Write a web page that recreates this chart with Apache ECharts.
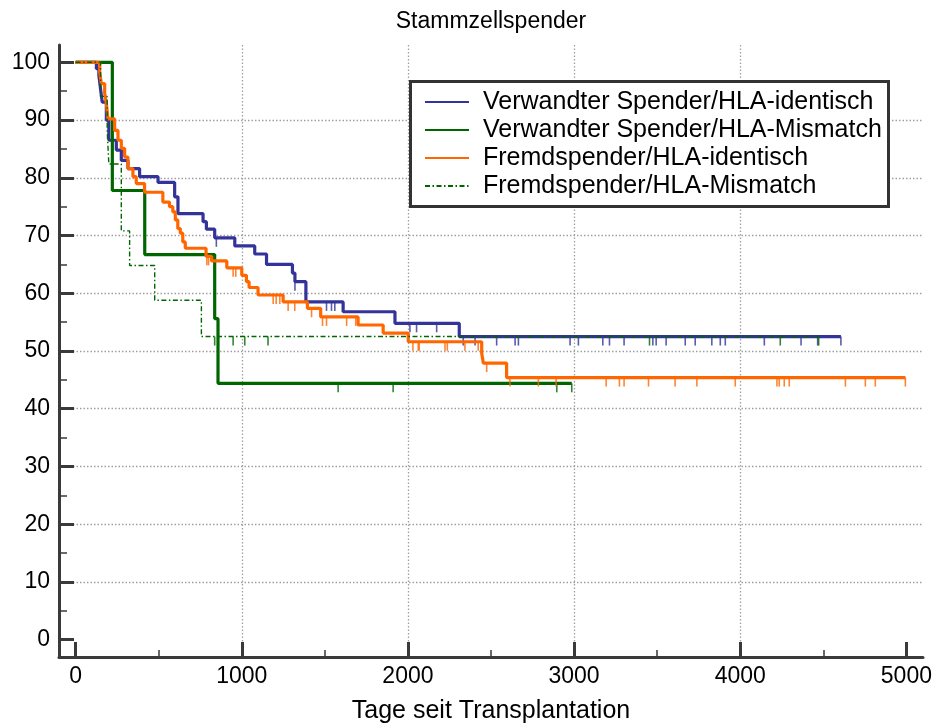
<!DOCTYPE html>
<html>
<head>
<meta charset="utf-8">
<script src="https://cdn.jsdelivr.net/npm/echarts@6/dist/echarts.min.js"></script>
<style>
html,body{margin:0;padding:0;background:#fff;}
#chart{width:936px;height:724px;}
</style>
</head>
<body>
<div id="chart"></div>
<script>
// ---- tick labels ----
var xTicks = [0, 1000, 2000, 3000, 4000, 5000];
var xMinorTicks = [500, 1500, 2500, 3500, 4500];
var yTicks = [0, 10, 20, 30, 40, 50, 60, 70, 80, 90, 100];
var yMinorTicks = [5, 15, 25, 35, 45, 55, 65, 75, 85, 95];

// ---- series names ----
var names = [
  'Verwandter Spender/HLA-identisch',
  'Verwandter Spender/HLA-Mismatch',
  'Fremdspender/HLA-identisch',
  'Fremdspender/HLA-Mismatch'
];

// ---- Verwandter Spender/HLA-identisch ----
var blueDays = [0,125,140,150,160,185,200,245,275,315,385,496,596,616,767,787,837,958,1078,1149,1305,1320,1386,1610,1922,2309,4606];
var blueVals = [100,98.9,97.7,95.4,93.1,90.0,86.5,84.8,83.0,81.6,80.2,79.2,76.7,73.8,72.4,71.1,69.6,68.2,66.8,65.0,63.5,62.0,58.5,56.8,54.8,52.5,52.5];
var blueCensor = [847,1320,1510,1540,1560,2012,2052,2173,2333,2404,2534,2645,2665,2976,3026,3173,3213,3301,3474,3494,3554,3669,3729,3829,3880,3910,4145,4366,4466,4606];

// ---- Verwandter Spender/HLA-Mismatch ----
var greenDays = [0,221,416,837,857,2986];
var greenVals = [100,77.8,66.7,55.6,44.4,44.4];
var greenCensor = [1580,1911,2896,2986];

// ---- Fremdspender/HLA-identisch ----
var orangeDays = [0,145,155,175,185,195,235,255,275,295,315,345,365,415,525,565,585,600,615,630,645,660,785,818,910,1000,1028,1044,1098,1249,1395,1475,1700,1851,2002,2444,2454,2594,4994];
var orangeVals = [100,98.3,96.3,94.6,92.9,90.2,88.2,86.5,85.1,83.6,81.6,80.2,79.0,77.5,75.8,75.0,74.1,72.7,71.2,70.4,68.9,67.8,66.4,65.6,64.4,63.1,62.0,61.0,59.7,58.5,57.4,55.9,54.5,53.1,51.6,49.6,47.9,45.4,45.4];
var orangeCensor = [790,800,948,964,1189,1207,1229,1279,1319,1420,1486,1510,1631,1686,2030,2062,2068,2223,2237,2343,2423,2474,2614,2785,2892,3193,3273,3301,3448,3608,3739,3970,4221,4235,4265,4295,4633,4753,4813,4994];

// ---- Fremdspender/HLA-Mismatch ----
var dashDays = [0,150,190,200,275,325,476,757,4472];
var dashVals = [100,94.1,88.2,82.4,70.8,64.8,58.8,52.5,52.5];
var dashCensor = [837,948,1018,1158,3454,4241,4472];

var colors = ['#333399', '#006600', '#ff6600', '#006600'];

function pairs(days, vals) {
  return days.map(function (d, i) { return [d, vals[i]]; });
}
function stepAt(days, vals, d) {
  var v = vals[0];
  for (var i = 0; i < days.length; i++) { if (days[i] <= d) v = vals[i]; }
  return v;
}
function censorPts(c, days, vals) {
  return c.map(function (d) { return [d, stepAt(days, vals, d)]; });
}

var curves = [
  {days: blueDays, vals: blueVals, censor: blueCensor, width: 3.2, type: 'solid'},
  {days: greenDays, vals: greenVals, censor: greenCensor, width: 3.2, type: 'solid'},
  {days: orangeDays, vals: orangeVals, censor: orangeCensor, width: 3.2, type: 'solid'},
  {days: dashDays, vals: dashVals, censor: dashCensor, width: 1.4, type: [5, 2.5, 1.5, 2.5]}
];

var series = [];
curves.forEach(function (c, i) {
  series.push({
    name: names[i], type: 'line', step: 'end', symbol: 'none',
    data: pairs(c.days, c.vals),
    lineStyle: {color: colors[i], width: c.width, type: c.type},
    itemStyle: {color: colors[i]},
    z: 2 + i, silent: true
  });
});
curves.forEach(function (c, i) {
  series.push({
    name: names[i] + ' zensiert', type: 'scatter',
    data: censorPts(c.censor, c.days, c.vals),
    symbol: 'rect', symbolSize: [1.6, 9], symbolOffset: [0, '50%'],
    itemStyle: {color: colors[i]},
    z: 2 + i, silent: true
  });
});

var axisColor = '#3a3a3a';
var font = 'Liberation Sans, Arial, sans-serif';
function plain(v) { return String(v); }

var chart = echarts.init(document.getElementById('chart'), null, {renderer: 'canvas'});
chart.setOption({
  animation: false,
  backgroundColor: '#fff',
  title: {
    text: 'Stammzellspender', left: 491, top: 10, textAlign: 'center', padding: 0,
    textStyle: {fontFamily: font, fontSize: 23, fontWeight: 'normal', color: '#000'}
  },
  grid: {left: 59, right: 13, top: 45, bottom: 67, containLabel: false, outerBoundsMode: 'none'},
  xAxis: [{
    type: 'value', min: -100, max: 5100,
    name: 'Tage seit Transplantation', nameLocation: 'middle', nameGap: 42,
    nameTextStyle: {fontFamily: font, fontSize: 25, color: '#000'},
    axisLine: {show: true, onZero: false, lineStyle: {color: axisColor, width: 3}},
    axisTick: {show: true, inside: true, length: 15, customValues: xTicks, lineStyle: {color: axisColor, width: 3}},
    axisLabel: {show: true, customValues: xTicks, formatter: plain, margin: 8, fontFamily: font, fontSize: 23, color: '#000'},
    splitLine: {show: true, showMinLine: false, showMaxLine: false, lineStyle: {color: '#a0a0a0', width: 1.3, type: [1.5, 2]}}
  }, {
    type: 'value', min: -100, max: 5100, position: 'bottom', offset: 0,
    axisLine: {show: false, onZero: false},
    axisTick: {show: true, inside: true, length: 7, customValues: xMinorTicks, lineStyle: {color: axisColor, width: 1.5}},
    axisLabel: {show: false},
    splitLine: {show: false}
  }],
  yAxis: [{
    type: 'value', min: -3, max: 103,
    axisLine: {show: true, onZero: false, lineStyle: {color: axisColor, width: 3}},
    axisTick: {show: true, inside: true, length: 15, customValues: yTicks, lineStyle: {color: axisColor, width: 3}},
    axisLabel: {show: true, customValues: yTicks, formatter: plain, margin: 9, fontFamily: font, fontSize: 23, color: '#000'},
    splitLine: {show: true, showMinLine: false, showMaxLine: false, lineStyle: {color: '#a0a0a0', width: 1.3, type: [1.5, 2]}}
  }, {
    type: 'value', min: -3, max: 103, position: 'left', offset: 0,
    axisLine: {show: false, onZero: false},
    axisTick: {show: true, inside: true, length: 8, customValues: yMinorTicks, lineStyle: {color: axisColor, width: 1.5}},
    axisLabel: {show: false},
    splitLine: {show: false}
  }],
  legend: {
    data: names, orient: 'vertical', left: 424, top: 88, padding: 0,
    itemWidth: 44, itemHeight: 14, itemGap: 0, z: 20,
    selectedMode: false,
    itemStyle: {color: 'rgba(0,0,0,0)', borderWidth: 0, opacity: 0},
    textStyle: {fontFamily: font, fontSize: 25, color: '#000', lineHeight: 28, padding: [0, 0, 0, 9]}
  },
  graphic: [{
    type: 'rect', z: 10,
    shape: {x: 410.5, y: 81.5, width: 478, height: 125},
    style: {fill: '#fff', stroke: '#333', lineWidth: 3}
  }],
  series: series
});
</script>
</body>
</html>
